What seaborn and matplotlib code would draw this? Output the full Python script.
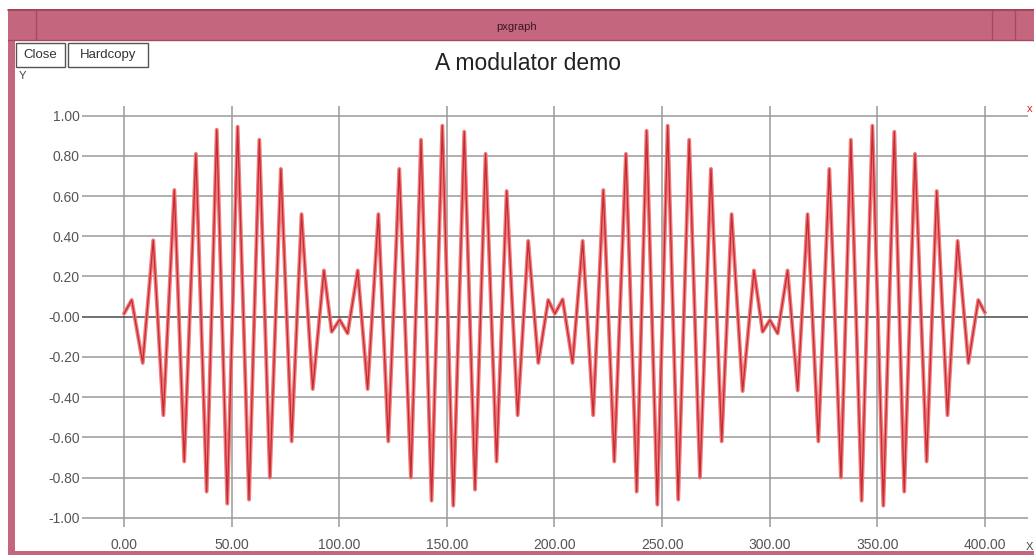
import matplotlib
matplotlib.use("Agg")
import matplotlib.pyplot as plt
from matplotlib.patches import Rectangle
from matplotlib.lines import Line2D
import seaborn as sns

# extrema of the modulated signal (x, y)
sig_x = [0.0, 3.6, 8.7, 13.6, 18.3, 23.4, 28.0, 33.4, 38.4, 43.1, 48.0,
         52.8, 58.1, 62.9, 67.8, 72.9, 77.9, 82.5, 87.7, 92.9, 96.5,
         100.2, 103.9, 108.6, 113.2, 118.2, 122.8, 127.9, 133.3, 138.0, 142.9,
         147.9, 153.0, 158.1, 163.1, 168.0, 173.1, 177.8, 182.9, 187.8, 192.5,
         197.1, 200.2, 203.8, 208.4, 213.1, 218.0, 222.7, 227.8, 233.2, 238.2,
         242.8, 247.8, 252.6, 257.5, 262.6, 267.6, 272.7, 277.7, 282.3, 287.4,
         292.7, 296.7, 300.1, 303.7, 308.3, 313.0, 317.6, 322.6, 327.7, 333.1,
         337.7, 342.7, 347.7, 352.8, 357.9, 362.5, 367.5, 372.9, 377.6, 382.6,
         387.3, 392.3, 396.9, 400.0]
sig_y = [0.015, 0.083, -0.23, 0.38, -0.49, 0.63, -0.72, 0.81, -0.87, 0.93, -0.93,
         0.945, -0.91, 0.88, -0.80, 0.735, -0.62, 0.51, -0.36, 0.23, -0.075,
         -0.015, -0.083, 0.23, -0.36, 0.51, -0.62, 0.735, -0.80, 0.88, -0.915,
         0.95, -0.94, 0.92, -0.86, 0.81, -0.72, 0.625, -0.49, 0.377, -0.23,
         0.083, 0.015, 0.086, -0.23, 0.377, -0.49, 0.63, -0.72, 0.81, -0.87,
         0.925, -0.935, 0.95, -0.91, 0.88, -0.80, 0.735, -0.62, 0.51, -0.37,
         0.23, -0.075, -0.017, -0.083, 0.23, -0.367, 0.51, -0.62, 0.735, -0.80,
         0.88, -0.915, 0.95, -0.94, 0.92, -0.87, 0.81, -0.72, 0.625, -0.49,
         0.377, -0.23, 0.083, 0.02]

x_ticks = [0, 50, 100, 150, 200, 250, 300, 350, 400]
x_tick_labels = ["0.00", "50.00", "100.00", "150.00", "200.00", "250.00",
                 "300.00", "350.00", "400.00"]
y_ticks = [1.0, 0.8, 0.6, 0.4, 0.2, 0.0, -0.2, -0.4, -0.6, -0.8, -1.0]
y_tick_labels = ["1.00", "0.80", "0.60", "0.40", "0.20", "-0.00", "-0.20",
                 "-0.40", "-0.60", "-0.80", "-1.00"]

sns.set_theme(style="white")
plt.rcParams['font.family'] = ['Liberation Sans', 'DejaVu Sans']

W, H = 1034, 555
fig = plt.figure(figsize=(W / 100, H / 100), dpi=100)
fig.patch.set_facecolor("white")

def fx(px):
    return px / W

def fy(py):
    return 1 - py / H

# window frame
pink = "#c5667f"
fig.add_artist(Rectangle((fx(8), fy(41)), fx(1034) - fx(8), fy(9) - fy(41),
                         transform=fig.transFigure, facecolor=pink, edgecolor="none"))
fig.add_artist(Line2D([fx(8), fx(1034)], [fy(10), fy(10)], transform=fig.transFigure,
                      color="#9c4058", lw=1.2))
fig.add_artist(Line2D([fx(8), fx(1034)], [fy(40), fy(40)], transform=fig.transFigure,
                      color="#a24a60", lw=1.0))
for px in [36, 992, 1015]:
    fig.add_artist(Line2D([fx(px), fx(px)], [fy(11), fy(39)], transform=fig.transFigure,
                          color="#a24a60", lw=1.0))
fig.add_artist(Rectangle((fx(8), 0), fx(15) - fx(8), fy(9),
                         transform=fig.transFigure, facecolor=pink, edgecolor="none"))
fig.add_artist(Rectangle((fx(8), 0), 1 - fx(8), fy(551),
                         transform=fig.transFigure, facecolor=pink, edgecolor="none"))
fig.text(fx(517), fy(27), "pxgraph", ha="center", va="center", fontsize=8,
         color="#3b1620")

# buttons
for x0, x1, label in [(16, 65, "Close"), (68, 148, "Hardcopy")]:
    fig.add_artist(Rectangle((fx(x0), fy(67)), fx(x1) - fx(x0), fy(43) - fy(67),
                             transform=fig.transFigure, facecolor="white",
                             edgecolor="#555555", lw=1.0))
    fig.text(fx((x0 + x1) / 2), fy(55), label, ha="center", va="center",
             fontsize=9.5, color="#333333")

fig.text(fx(528), fy(64), "A modulator demo", ha="center", va="center",
         fontsize=16.5, color="#222222")
fig.text(fx(19), fy(76), "Y", ha="left", va="center", fontsize=8, color="#444444")
fig.text(fx(1026), fy(547), "X", ha="left", va="center", fontsize=8, color="#444444")
fig.text(fx(1027), fy(109), "x", ha="left", va="center", fontsize=8, color="#e02020")

# plot area
ax = fig.add_axes([fx(82), fy(527), fx(1028) - fx(82), fy(106) - fy(527)])
ax.set_facecolor("none")

sns.lineplot(x=sig_x, y=sig_y, ax=ax, sort=False, estimator=None,
             color="#f07a7a", lw=2.8)
sns.lineplot(x=sig_x, y=sig_y, ax=ax, sort=False, estimator=None,
             color="#c42a34", lw=0.9)

ax.set_xlim(-19.5, 420.0)
ax.set_ylim(-1.046, 1.048)
ax.set_xticks(x_ticks, labels=x_tick_labels)
ax.set_yticks(y_ticks, labels=y_tick_labels)
ax.tick_params(axis="x", length=0, pad=8, labelsize=10, labelcolor="#555555")
ax.tick_params(axis="y", length=0, pad=1.5, labelsize=10, labelcolor="#555555")
ax.grid(True, color="#9a9a9a", lw=1.1)
ax.set_axisbelow(True)
for line, val in zip(ax.get_ygridlines(), y_ticks):
    if val == 0.0:
        line.set_color("#4a4a4a")
for s in ax.spines.values():
    s.set_visible(False)
ax.set_xlabel("")
ax.set_ylabel("")

fig.savefig("out.png", dpi=100)
